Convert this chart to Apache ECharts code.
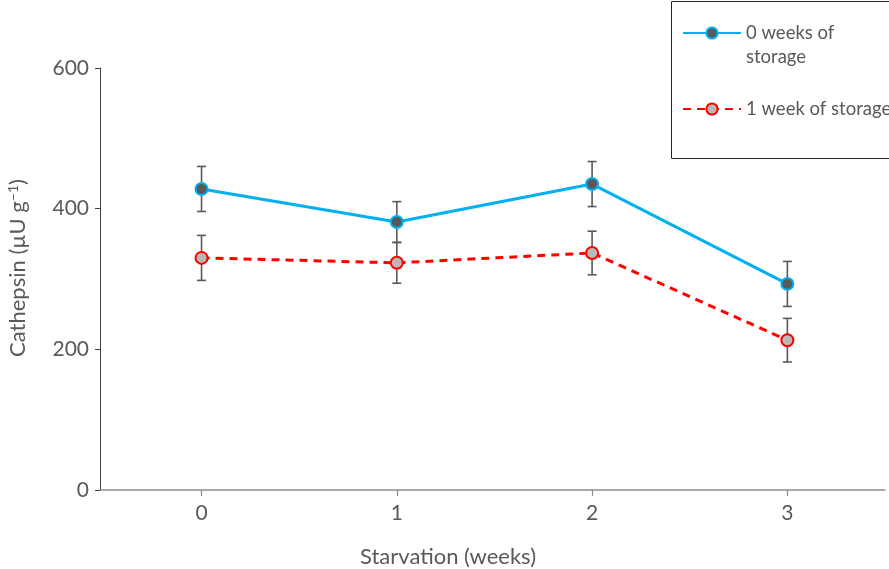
<!DOCTYPE html>
<html>
<head>
<meta charset="utf-8">
<script src="https://cdn.jsdelivr.net/npm/echarts@6/dist/echarts.min.js"></script>
<style>html,body{margin:0;padding:0;background:#fff}#c{width:889px;height:569px}</style>
</head>
<body>
<div id="c"></div>
<script>
const weeks = [0, 1, 2, 3];
const yTicks = [0, 200, 400, 600];
const s0Name = '0 weeks of storage';
const s0Values = [428, 381, 435, 293];
const s0Errors = [32, 29, 32, 32];
const s1Name = '1 week of storage';
const s1Values = [330, 323, 337, 213];
const s1Errors = [32, 29, 31, 31];

const FONT = 'Lato';
const TXT = '#595959';

function pairs(vals) { return weeks.map((w, i) => [w, vals[i]]); }
function errData(vals, errs) { return weeks.map((w, i) => [w, vals[i] - errs[i], vals[i] + errs[i]]); }

function errRender(params, api) {
  const x = api.value(0);
  const lo = api.coord([x, api.value(1)]);
  const hi = api.coord([x, api.value(2)]);
  const hw = 4.5;
  const st = { stroke: '#595959', lineWidth: 1.6 };
  return {
    type: 'group',
    children: [
      { type: 'line', shape: { x1: lo[0], y1: lo[1], x2: hi[0], y2: hi[1] }, style: st },
      { type: 'line', shape: { x1: lo[0] - hw, y1: lo[1], x2: lo[0] + hw, y2: lo[1] }, style: st },
      { type: 'line', shape: { x1: hi[0] - hw, y1: hi[1], x2: hi[0] + hw, y2: hi[1] }, style: st }
    ]
  };
}

const chart = echarts.init(document.getElementById('c'), null, { renderer: 'canvas' });
chart.setOption({
  animation: false,
  backgroundColor: '#fff',
  textStyle: { fontFamily: FONT },
  grid: { left: 100, right: 4, top: 68, bottom: 79, containLabel: false, outerBoundsMode: 'none' },
  xAxis: {
    type: 'value', min: -0.52, max: 3.5,
    splitLine: { show: false },
    axisLine: { lineStyle: { color: '#8c8c8c', width: 1.5 } },
    axisTick: { show: true, length: 6, lineStyle: { color: '#8c8c8c', width: 1.2 } },
    axisLabel: {
      color: TXT, fontSize: 21, fontFamily: FONT, margin: 13,
      showMinLabel: false, showMaxLabel: false,
      formatter: v => (weeks.indexOf(v) >= 0 ? String(v) : '')
    }
  },
  yAxis: {
    type: 'value', min: yTicks[0], max: yTicks[yTicks.length - 1], interval: 200,
    splitLine: { show: false },
    axisLine: { show: true, onZero: false, lineStyle: { color: '#404040', width: 1 } },
    axisTick: { show: true, length: 5, lineStyle: { color: '#404040' } },
    axisLabel: { color: TXT, fontSize: 21, fontFamily: FONT, margin: 11 },
    name: 'Cathepsin (µU g{sup|−1})',
    nameLocation: 'middle', nameGap: 70, nameRotate: 90,
    nameTextStyle: {
      color: TXT, fontSize: 22, fontFamily: FONT, padding: [0, 0, 0, 22],
      rich: { sup: { fontSize: 14, verticalAlign: 'top', color: TXT, fontFamily: FONT, padding: [0, 0, 10, 0] } }
    }
  },
  legend: [
    {
      data: [s0Name], left: 682, top: -3, itemWidth: 58, itemHeight: 14, padding: 0,
      formatter: () => '\n0 weeks of\nstorage',
      textStyle: { color: TXT, fontSize: 18.5, fontFamily: FONT, lineHeight: 24 }
    },
    {
      data: [s1Name], left: 682, top: 97, itemWidth: 58, itemHeight: 14, padding: 0,
      textStyle: { color: TXT, fontSize: 18.5, fontFamily: FONT, lineHeight: 24 }
    }
  ],
  graphic: [
    { type: 'rect', shape: { x: 671.5, y: 1.5, width: 240, height: 157 }, style: { fill: null, stroke: '#262626', lineWidth: 1 }, z: -1 },
    { type: 'text', x: 448, y: 557, style: { text: 'Starvation (weeks)', fill: TXT, font: '22px ' + FONT, align: 'center', verticalAlign: 'middle' } }
  ],
  series: [
    {
      name: s0Name, type: 'line', data: pairs(s0Values), z: 3,
      symbol: 'circle', symbolSize: 12,
      lineStyle: { color: '#00B0F0', width: 3 },
      itemStyle: { color: '#595959', borderColor: '#00B0F0', borderWidth: 2 }
    },
    {
      name: s1Name, type: 'line', data: pairs(s1Values), z: 3,
      symbol: 'circle', symbolSize: 12,
      lineStyle: { color: '#FF0000', width: 3, type: [8, 6] },
      itemStyle: { color: '#b8b8b8', borderColor: '#FF0000', borderWidth: 2 }
    },
    { type: 'custom', data: errData(s0Values, s0Errors), renderItem: errRender, z: 2, silent: true },
    { type: 'custom', data: errData(s1Values, s1Errors), renderItem: errRender, z: 2, silent: true }
  ]
});
</script>
</body>
</html>
